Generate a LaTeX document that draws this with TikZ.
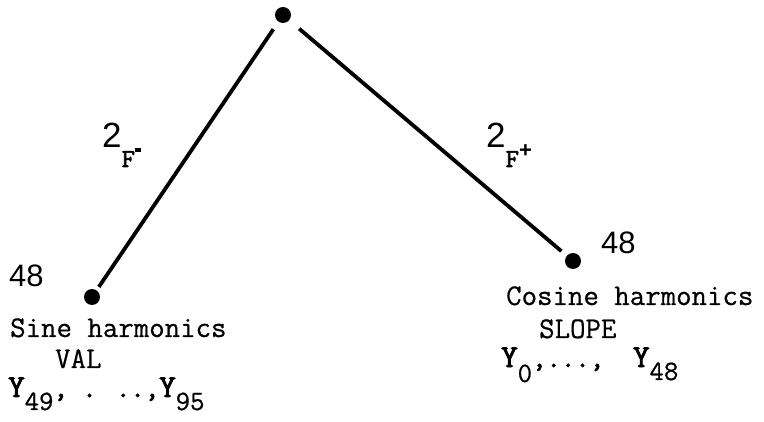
\documentclass[tikz,border=0pt]{standalone}
\usepackage{fontspec}
\setmainfont{Liberation Serif}
\setsansfont{Liberation Sans}
\newfontfamily\typew{Latin Modern Mono}[FakeBold=0.6]
\newfontfamily\ybold{Latin Modern Mono}[FakeBold=2.6]
\newcommand{\ysym}[2]{{\fontsize{32}{32}\selectfont Y}\raisebox{#2}{\typew #1}}
\newcommand{\flab}[1]{{\sffamily\fontsize{35}{35}\selectfont 2}\raisebox{-19pt}{\ybold\fontsize{26}{26}\selectfont F}#1}

\begin{document}
\begin{tikzpicture}[x=1pt,y=-1pt,
  dot/.style={circle,fill,inner sep=0pt,minimum size=16pt},
  branch/.style={line width=3.8pt},
  txt/.style={anchor=base west,inner sep=0pt,font=\typew\fontsize{30}{30}\selectfont},
  ytxt/.style={anchor=base west,inner sep=0pt,font=\ybold\fontsize{28}{28}\selectfont},
  num/.style={anchor=base west,inner sep=0pt,font=\sffamily\fontsize{31}{31}\selectfont}]
  \useasboundingbox (0,0) rectangle (764,422);
  \node[dot] (top) at (283,15) {};
  \node[dot] (sine) at (92,297) {};
  \node[dot] (cosine) at (573,261) {};
  \draw[branch,shorten <=9pt,shorten >=4pt] (top) -- (sine);
  \draw[branch,shorten <=13pt,shorten >=7pt] (top) -- (cosine);
  \node[anchor=base west,inner sep=0pt] (fminus) at (102,148)
    {\flab{\rule[-4pt]{6pt}{3.5pt}}};
  \node[anchor=base west,inner sep=0pt] (fplus) at (486,148)
    {\flab{\raisebox{-10pt}{\sffamily\fontsize{22}{22}\selectfont\bfseries +}}};
  \node[num] (nsine) at (9,287) {48};
  \node[num] (ncosine) at (601,254) {48};
  \node[txt] (sinename) at (10,337) {Sine harmonics};
  \node[txt] (val) at (55,368) {VAL};
  \node[ytxt] (ysine) at (8,397) {\ysym{49}{-13pt}, . ..,\ysym{95}{-13pt}};
  \node[txt] (cosname) at (506,305) {Cosine harmonics};
  \node[txt] (slope) at (539,338) {SLOPE};
  \node[ytxt] (ycos) at (501,367) {\ysym{0}{-15pt},...,\ \ \ysym{48}{-13pt}};
\end{tikzpicture}
\end{document}
